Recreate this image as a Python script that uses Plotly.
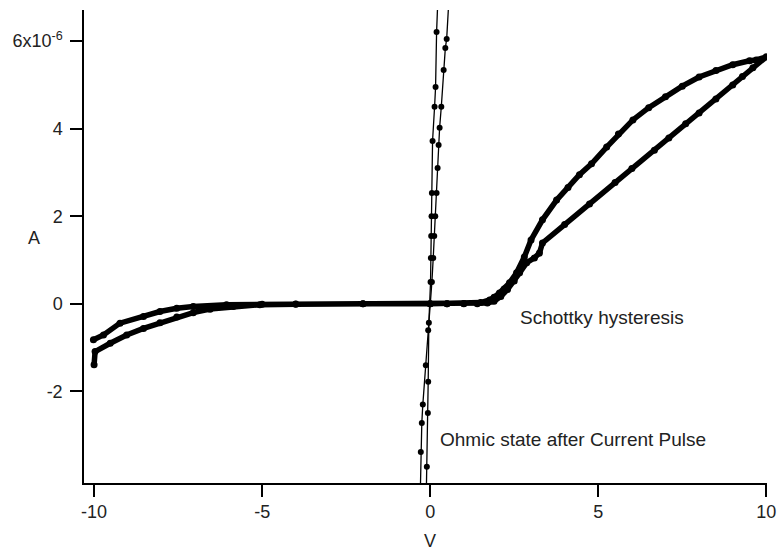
import plotly.graph_objects as go

# Schottky hysteresis sweep (V in volts, I in microamps)
schottky_v = [-10.0, -9.97, -9.52, -9.03, -8.53, -8.04, -7.54, -7.05, -6.55, -5.86, -5.07, -4.0, -2.0, 0.0,
              0.5, 1.0, 1.4, 1.7, 1.9, 2.1, 2.3, 2.5, 2.66, 2.87, 3.1, 3.25, 3.34, 4.0, 4.74, 5.5, 6.0, 6.67,
              7.1, 7.6, 8.0, 8.5, 9.0, 9.29, 9.6, 10.0,
              9.7, 9.5, 9.0, 8.5, 8.0, 7.5, 7.0, 6.5, 6.03, 5.6, 5.25, 4.8, 4.44, 4.1, 3.76, 3.34, 3.0, 2.8,
              2.57, 2.36, 2.2, 2.06, 1.9, 1.77, 1.5, 1.0, 0.5, 0.0,
              -2.0, -4.0, -5.0, -6.06, -7.05, -7.54, -8.04, -8.53, -9.23, -9.72, -10.02]
schottky_i = [-1.39, -1.09, -0.90, -0.71, -0.56, -0.43, -0.30, -0.20, -0.12, -0.06, -0.02, -0.01, 0.0, 0.0,
              0.0, 0.0, 0.005, 0.02, 0.06, 0.17, 0.33, 0.52, 0.71, 0.94, 1.05, 1.16, 1.39, 1.81, 2.28, 2.77, 3.09, 3.51,
              3.79, 4.11, 4.36, 4.68, 5.0, 5.19, 5.39, 5.64,
              5.57, 5.55, 5.46, 5.33, 5.18, 4.97, 4.73, 4.48, 4.2, 3.88, 3.58, 3.2, 2.95, 2.66, 2.37, 1.92, 1.46, 1.07,
              0.71, 0.48, 0.34, 0.25, 0.15, 0.09, 0.03, 0.01, 0.0, 0.0,
              0.0, -0.005, -0.01, -0.02, -0.06, -0.10, -0.175, -0.29, -0.44, -0.71, -0.82]

# Ohmic state after current pulse: two nearly vertical branches
ohmic1_v = [-0.30, -0.28, -0.25, -0.22, -0.13, -0.06, 0.0, 0.05, 0.09, 0.12, 0.15, 0.19, 0.22, 0.25, 0.28, 0.33, 0.40, 0.45, 0.49, 0.56]
ohmic1_i = [-4.5, -3.38, -2.72, -2.30, -1.40, -0.60, 0.0, 0.5, 1.05, 1.55, 2.0, 2.53, 3.1, 3.63, 4.02, 4.5, 5.34, 5.84, 6.05, 7.0]
ohmic2_v = [-0.12, -0.10, -0.07, -0.06, -0.04, -0.01, 0.01, 0.02, 0.03, 0.04, 0.05, 0.07, 0.13, 0.16, 0.19, 0.23]
ohmic2_i = [-4.5, -3.72, -2.49, -1.78, -0.43, 0.0, 0.5, 1.05, 1.55, 2.0, 2.53, 3.72, 4.5, 4.95, 6.21, 7.0]

y_tickvals = [-2, 0, 2, 4, 6]
y_ticktext = ["-2", "0", "2", "4", "6x10<sup>-6</sup>"]
x_tickvals = [-10, -5, 0, 5, 10]
x_ticktext = ["-10", "-5", "0", "5", "10"]

FONT = "Liberation Sans, Arial, sans-serif"
TXT = "#222222"
TICK_SIZE = 18
NOTE_SIZE = 19
W, H = 777, 552
ML, MR, MT, MB = 84, 10, 10, 69
pw, ph = W - ML - MR, H - MT - MB

fig = go.Figure()
fig.add_trace(go.Scatter(x=schottky_v, y=schottky_i, mode="lines+markers",
                         line=dict(color="black", width=5.5),
                         marker=dict(color="black", size=7), showlegend=False))
fig.add_trace(go.Scatter(x=ohmic1_v, y=ohmic1_i, mode="lines+markers",
                         line=dict(color="black", width=1.3),
                         marker=dict(color="black", size=6), showlegend=False))
fig.add_trace(go.Scatter(x=ohmic2_v, y=ohmic2_i, mode="lines+markers",
                         line=dict(color="black", width=1.3),
                         marker=dict(color="black", size=6), showlegend=False))

fig.update_layout(
    width=W, height=H,
    margin=dict(l=ML, r=MR, t=MT, b=MB, autoexpand=False),
    paper_bgcolor="white", plot_bgcolor="white",
    font=dict(family=FONT, size=TICK_SIZE, color=TXT),
    xaxis=dict(range=[-10.3, 10.02], tickvals=x_tickvals, ticktext=x_ticktext, automargin=False,
               showgrid=False, zeroline=False, showline=True, linecolor="black", linewidth=1.5,
               ticks="outside", ticklen=12, tickwidth=1.5, tickcolor="black",
               tickfont=dict(family=FONT, size=TICK_SIZE, color=TXT)),
    yaxis=dict(range=[-4.09, 6.71], tickvals=y_tickvals, ticktext=y_ticktext, automargin=False,
               showgrid=False, zeroline=False, showline=True, linecolor="black", linewidth=1.5,
               ticks="outside", ticklen=12, tickwidth=1.5, tickcolor="black", ticklabelstandoff=4,
               tickfont=dict(family=FONT, size=TICK_SIZE, color=TXT)),
    annotations=[
        dict(x=2.6, y=-0.32, xref="x", yref="y", text="Schottky hysteresis", showarrow=False,
             xanchor="left", yanchor="middle", font=dict(family=FONT, size=NOTE_SIZE, color=TXT)),
        dict(x=0.22, y=-3.10, xref="x", yref="y", text="Ohmic state after Current Pulse", showarrow=False,
             xanchor="left", yanchor="middle", font=dict(family=FONT, size=NOTE_SIZE, color=TXT)),
        dict(x=(430 - ML) / pw, y=1 - (541 - MT) / ph, xref="paper", yref="paper", text="V",
             showarrow=False, xanchor="center", yanchor="middle",
             font=dict(family=FONT, size=TICK_SIZE, color=TXT)),
        dict(x=(34 - ML) / pw, y=1 - (238 - MT) / ph, xref="paper", yref="paper", text="A",
             showarrow=False, xanchor="center", yanchor="middle",
             font=dict(family=FONT, size=TICK_SIZE, color=TXT)),
    ],
)

fig.write_html("out.html")
